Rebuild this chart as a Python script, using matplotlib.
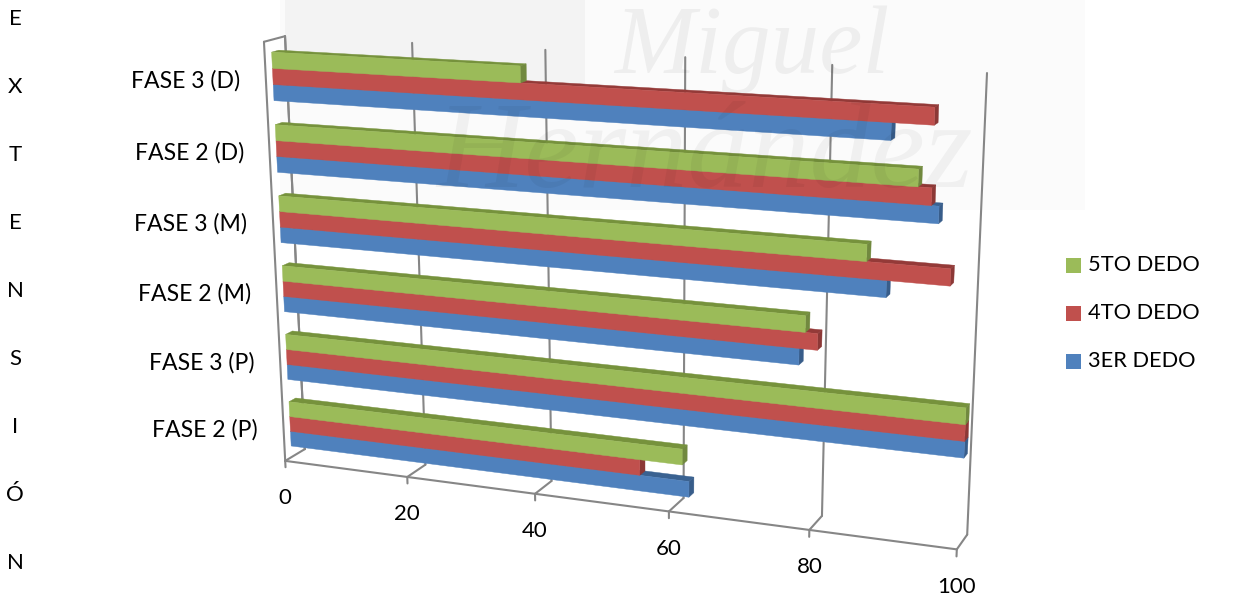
import numpy as np
import matplotlib
matplotlib.use('Agg')
import matplotlib.pyplot as plt
from matplotlib.patches import Polygon, Rectangle
from matplotlib.transforms import Transform

plt.rcParams['font.family'] = ['Lato', 'DejaVu Sans']

# Data, bottom category first
categories = ['FASE 2 (P)', 'FASE 3 (P)', 'FASE 2 (M)', 'FASE 3 (M)', 'FASE 2 (D)', 'FASE 3 (D)']
dedo3 = [62.2, 100, 77.5, 89, 95.5, 89]
dedo4 = [55, 100, 80, 97.3, 94.5, 94.5]
dedo5 = [61.2, 100, 78.3, 86.3, 92.7, 38]
series_names = ['3ER DEDO', '4TO DEDO', '5TO DEDO']
value_ticks = [0, 20, 40, 60, 80, 100]
side_title = ['E', 'X', 'T', 'E', 'N', 'S', 'I', 'Ó', 'N']

# front, top and end colours of each series
front_colors = ['#4F81BD', '#C0504D', '#9BBB59']
top_colors = ['#3A6291', '#943A38', '#76923C']
end_colors = ['#385D8A', '#8C3836', '#71893F']
grid_color = '#868686'

# Camera calibration: box corners (value, height, depth) and where they land on the image
box_corners = [(0, 0, 0), (100, 0, 0), (0, 1, 0), (0, 0, 1), (100, 0, 1), (0, 1, 1), (100, 1, 1)]
box_pixels = [(285, 461), (957, 549), (264, 42), (305, 449), (967, 535), (285, 36), (987, 73)]

rows = []
rhs = []
for (a, b, c), (px, py) in zip(box_corners, box_pixels):
    rows.append([a, b, c, 1, 0, 0, 0, 0, -px * a, -px * b, -px * c])
    rows.append([0, 0, 0, 0, a, b, c, 1, -py * a, -py * b, -py * c])
    rhs += [px, py]
cam = np.linalg.lstsq(np.array(rows, float), np.array(rhs, float), rcond=None)[0]
cam = np.append(cam, 1).reshape(3, 4)


class Plane(Transform):
    """Perspective projection of one plane of the box; axis is the fixed one (0 value, 1 height, 2 depth)."""
    input_dims = 2
    output_dims = 2

    def __init__(self, axis, pos):
        super().__init__()
        free = [i for i in range(3) if i != axis]
        self.m = np.column_stack([cam[:, free[0]], cam[:, free[1]], cam[:, 3] + pos * cam[:, axis]])

    def transform_non_affine(self, values):
        values = np.asarray(values, float)
        q = np.column_stack([values, np.ones(len(values))]) @ self.m.T
        return q[:, :2] / q[:, 2:]


def quad(ax, axis, pos, a0, a1, b0, b1, color, z):
    tr = Plane(axis, pos) + ax.transData
    ax.add_patch(Polygon([(a0, b0), (a1, b0), (a1, b1), (a0, b1)], closed=True, transform=tr,
                         facecolor=color, edgecolor=color, linewidth=0.3, zorder=z))


def seg(ax, axis, pos, p0, p1):
    tr = Plane(axis, pos) + ax.transData
    ax.plot([p0[0], p1[0]], [p0[1], p1[1]], transform=tr, color=grid_color, lw=1.5, zorder=2,
            solid_capstyle='round')


fig = plt.figure(figsize=(12.33, 6.03), dpi=100)
ax = fig.add_axes([0, 0, 1, 1])
ax.set_xlim(0, 1233)
ax.set_ylim(603, 0)
ax.axis('off')

# walls and floor lines
for v in value_ticks:
    seg(ax, 2, 1, (v, 0), (v, 1))
    seg(ax, 1, 0, (v, 0), (v, 1))
    seg(ax, 2, 0, (v, -0.016), (v, 0))
seg(ax, 1, 0, (0, 0), (100, 0))
seg(ax, 0, 0, (0, 0), (1, 0))  # left wall, (height, depth)
seg(ax, 0, 0, (0, 1), (1, 1))
seg(ax, 0, 0, (1, 0), (1, 1))

# bars, from the camera's far side to the near side
n_cat = len(categories)
cat_h = 1 / n_cat
bar_h = cat_h / 4.5
d0, d1 = 0.33, 0.67
series = [dedo3, dedo4, dedo5]
for c in range(n_cat):
    base = c * cat_h + 0.75 * bar_h
    for s in range(3):
        v = series[s][c]
        h0 = base + s * bar_h
        h1 = h0 + bar_h
        z = 3 + c + s * 0.1
        quad(ax, 1, h1, 0, v, d0, d1, top_colors[s], z)
        quad(ax, 0, v, h0, h1, d0, d1, end_colors[s], z)
        quad(ax, 2, d0, 0, v, h0, h1, front_colors[s], z)

# value labels
for v in value_ticks:
    ax.annotate(str(v), xy=(v, 0), xycoords=Plane(2, 0) + ax.transData, xytext=(0, -27),
                textcoords='offset points', ha='center', va='center', fontsize=16, color='black')

# category labels
for c, name in enumerate(categories):
    ax.annotate(name, xy=(0, (c + 0.5) * cat_h), xycoords=Plane(2, 0) + ax.transData, xytext=(-18.5, -1.5),
                textcoords='offset points', ha='right', va='center', fontsize=16.6, color='black')

# vertical title, one letter per line
for i, letter in enumerate(side_title):
    ax.text(15, 19 + i * 68, letter, ha='center', va='center', fontsize=16, color='black')

# legend
for i, s in enumerate([2, 1, 0]):
    y = 265 + i * 48
    ax.add_patch(Rectangle((1066, y - 7.5), 15, 15, facecolor=front_colors[s], edgecolor='none'))
    ax.text(1088, y, series_names[s], ha='left', va='center', fontsize=15.7, color='black')

# faint watermark over the chart
ax.add_patch(Rectangle((280, 0), 805, 210, facecolor='black', alpha=0.015, edgecolor='none', zorder=0))
ax.add_patch(Rectangle((285, 0), 300, 90, facecolor='black', alpha=0.03, edgecolor='none', zorder=0))
ax.text(752, 50, 'Miguel', ha='center', va='center', fontsize=70, style='italic', family='Liberation Serif',
        color='black', alpha=0.05, zorder=20)
ax.text(705, 157, 'Hernández', ha='center', va='center', fontsize=88, style='italic', family='Liberation Serif',
        color='black', alpha=0.045, zorder=20)

fig.savefig('out.png', dpi=100)
